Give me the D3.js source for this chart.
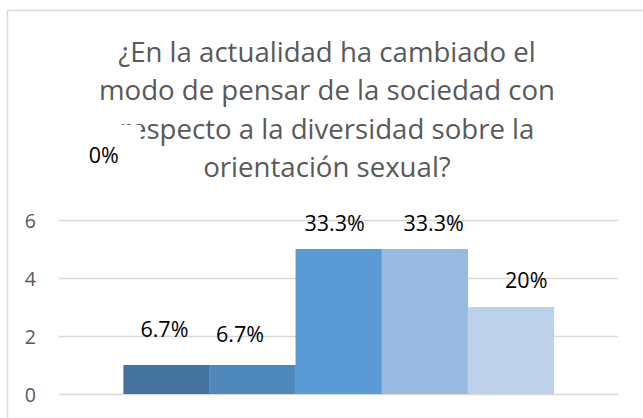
<!DOCTYPE html>
<html>
<head>
<meta charset="utf-8">
<script src="https://cdn.jsdelivr.net/npm/d3@7"></script>
<style>
  html, body { margin: 0; padding: 0; background: #fff; }
  svg { display: block; }
</style>
</head>
<body>
<svg id="chart" width="643" height="418"></svg>
<script>
// ---- data ----
const titleLines = [
  "¿En la actualidad ha cambiado el",
  "modo de pensar de la sociedad con",
  "respecto a la diversidad sobre la",
  "orientación sexual?"
];
const series = ["S1", "S2", "S3", "S4", "S5", "S6"];
const values = [0, 1, 1, 5, 5, 3];
const valueLabels = ["0%", "6.7%", "6.7%", "33.3%", "33.3%", "20%"];
const yTicks = [0, 2, 4, 6];
const barColors = ["#365f86", "#44739e", "#4f89bc", "#5b9bd5", "#98b9e0", "#bdd1ea"];

// ---- layout ----
const W = 643, H = 418;
const svg = d3.select("#chart");
svg.append("rect").attr("width", W).attr("height", H).attr("fill", "#fff");
// chart border (cropped at right/bottom)
svg.append("rect")
  .attr("x", 7.5).attr("y", 10.5).attr("width", W + 20).attr("height", H + 20)
  .attr("fill", "#fff").attr("stroke", "#d9d9d9").attr("stroke-width", 1.5);

const y = d3.scaleLinear().domain([0, 6]).range([394, 220]);
const x = d3.scaleBand().domain(series).range([37.3, 553.8]).paddingInner(0).paddingOuter(0);
const gridX0 = 59, gridX1 = 618;

// gridlines
svg.append("g").selectAll("line").data(yTicks).join("line")
  .attr("x1", gridX0).attr("x2", gridX1)
  .attr("y1", d => Math.round(y(d)) + 0.5).attr("y2", d => Math.round(y(d)) + 0.5)
  .attr("stroke", "#d9d9d9").attr("stroke-width", 1.5);

// y axis labels
const yAxis = d3.axisLeft(y).tickValues(yTicks).tickFormat(d3.format("d")).tickSize(0).tickPadding(0);
const gAxis = svg.append("g").attr("transform", "translate(36,0)").call(yAxis);
gAxis.select(".domain").remove();
gAxis.selectAll("text")
  .attr("font-family", "'Open Sans', sans-serif")
  .attr("font-size", 19.5)
  .attr("fill", "#595959")
  .attr("dy", "0.36em");

// bars
svg.append("g").selectAll("rect").data(values).join("rect")
  .attr("x", (d, i) => x(series[i]))
  .attr("width", x.bandwidth() + 0.3)
  .attr("y", d => y(d))
  .attr("height", d => y(0) - y(d))
  .attr("fill", (d, i) => barColors[i]);

// title
const title = svg.append("g");
titleLines.forEach((t, i) => {
  title.append("text")
    .attr("x", 327).attr("y", 62 + i * 38.3)
    .attr("text-anchor", "middle")
    .attr("font-family", "'Open Sans', sans-serif")
    .attr("font-size", 27.6)
    .attr("fill", "#595959")
    .text(t);
});

// data labels (manually placed, as in the source chart)
const labelNudge = [[23.5, -231], [-2, -28], [-12.5, -23], [-4, -18], [9, -18], [15.5, -19]];
const lbl = svg.append("g");
values.forEach((v, i) => {
  const cx = x(series[i]) + x.bandwidth() / 2 + labelNudge[i][0];
  const by = y(v) + labelNudge[i][1];
  if (i === 0) {
    lbl.append("rect").attr("x", cx - 37).attr("y", by - 38).attr("width", 74).attr("height", 55)
      .attr("fill", "#fff");
  }
  lbl.append("text")
    .attr("x", cx).attr("y", by)
    .attr("text-anchor", "middle")
    .attr("font-family", "'Open Sans', sans-serif")
    .attr("font-size", 21.5)
    .attr("fill", "#000")
    .text(valueLabels[i]);
});
</script>
</body>
</html>
